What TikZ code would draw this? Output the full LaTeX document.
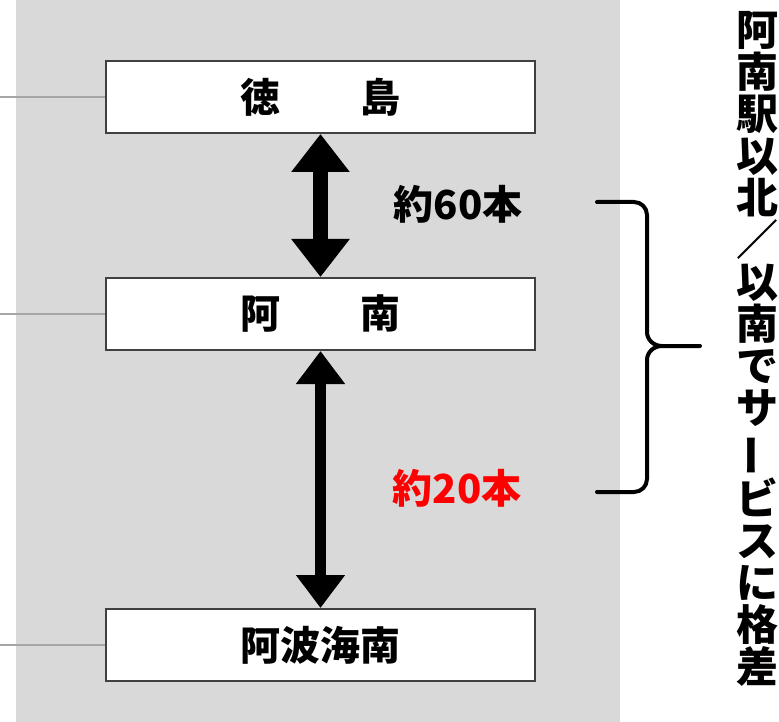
\documentclass[tikz,border=0pt]{standalone}
\usepackage{fontspec}
\setmainfont{Noto Sans CJK JP}
\usetikzlibrary{arrows.meta}
\definecolor{bgc}{HTML}{D9D9D9}
\definecolor{linec}{HTML}{A6A6A6}
\definecolor{boxc}{HTML}{404040}
\definecolor{redc}{HTML}{FF0000}
\tikzset{
  stationbox/.style={draw=boxc, line width=2pt, fill=white, minimum width=429pt, minimum height=72pt, inner sep=0pt, font=\fontsize{40}{40}\selectfont\bfseries},
  lbl/.style={inner sep=0pt, font=\fontsize{40}{40}\selectfont\bfseries},
  guide/.style={draw=linec, line width=1.4pt},
  bigarrow/.style={line width=15pt, {Triangle[length=38pt,width=56pt]}-{Triangle[length=38pt,width=56pt]}},
  longarrow/.style={line width=11pt, {Triangle[length=33pt,width=47pt]}-{Triangle[length=33pt,width=47pt]}},
  bracestyle/.style={line width=4pt, line cap=round, line join=round},
  vtext/.style={inner sep=0pt, align=center, font=\fontsize{42}{42}\selectfont\bfseries}
}
\begin{document}
\begin{tikzpicture}[x=1pt,y=-1pt]
\useasboundingbox (0,0) rectangle (779,722);
\fill[bgc] (16,0) rectangle (620,722);
\node[stationbox] (b1) at (320.5,97) {徳　　島};
\node[stationbox] (b2) at (320.5,314) {阿　　南};
\node[stationbox] (b3) at (320.5,645) {阿波海南};
\coordinate (l1) at (0,97);
\coordinate (l2) at (0,314);
\coordinate (l3) at (0,645);
\draw[guide] (l1) -- (b1.west);
\draw[guide] (l2) -- (b2.west);
\draw[guide] (l3) -- (b3.west);
\draw[bigarrow] (b1.south) -- (b2.north);
\draw[longarrow] (b2.south) -- (b3.north);
\node[lbl] (n60) at (458,204) {約60本};
\node[lbl, text=redc] (n20) at (457,488) {約20本};
\coordinate (bt) at (597,202);
\coordinate (bb) at (597,492);
\coordinate (bm) at (700,346);
\draw[bracestyle] (bt) -- (634,202) to[out=0,in=90] (647,215) -- (647,332) to[out=-90,in=180] (662,346) -- (bm);
\draw[bracestyle] (bb) -- (634,492) to[out=0,in=-90] (647,479) -- (647,360) to[out=90,in=180] (662,346);
\node[vtext] (vt) at (757,349) {阿\\南\\駅\\以\\北\\／\\以\\南\\で\\サ\\\rotatebox[origin=c]{90}{ー}\\ビ\\ス\\に\\格\\差};
\end{tikzpicture}
\end{document}
